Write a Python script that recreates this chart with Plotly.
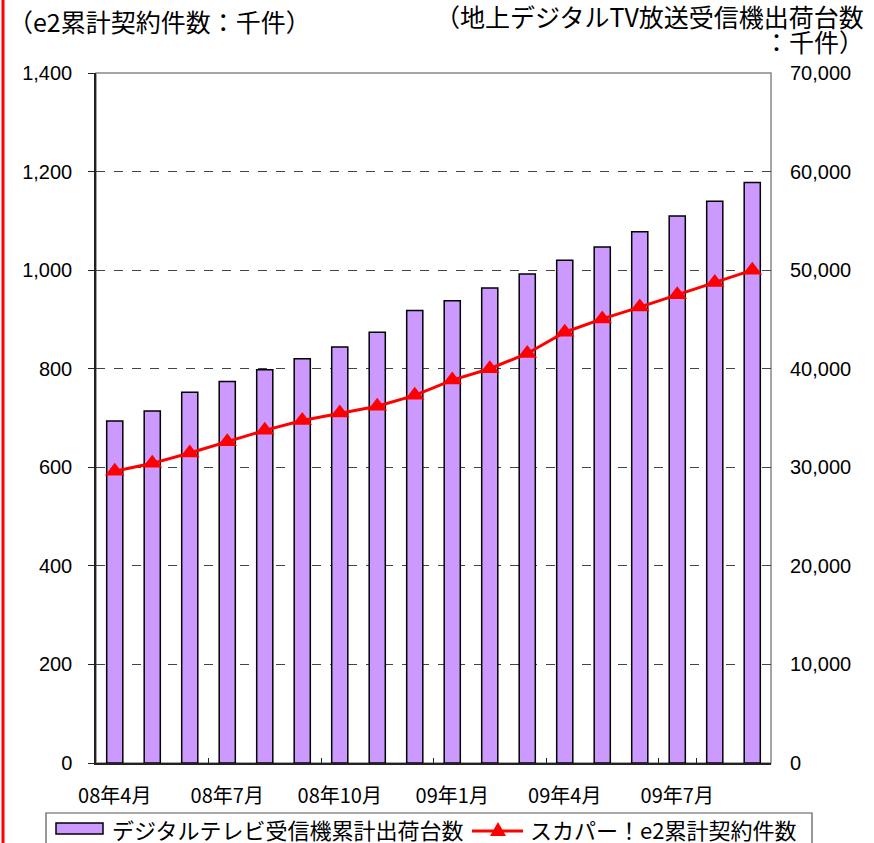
import plotly.graph_objects as go

months = ["08年4月", "08年5月", "08年6月", "08年7月", "08年8月", "08年9月",
          "08年10月", "08年11月", "08年12月", "09年1月", "09年2月", "09年3月",
          "09年4月", "09年5月", "09年6月", "09年7月", "09年8月", "09年9月"]
tv_shipments = [34700, 35700, 37600, 38700, 39900, 41000, 42200, 43700, 45900,
                46900, 48200, 49600, 51000, 52350, 53900, 55500, 57000, 58900]
e2_contracts = [592, 608, 629, 652, 675, 695, 710, 724, 746,
                777, 800, 831, 874, 901, 925, 950, 975, 1000]
shown_labels = ["08年4月", "08年7月", "08年10月", "09年1月", "09年4月", "09年7月"]
left_ticks = [0, 200, 400, 600, 800, 1000, 1200, 1400]
right_ticks = [0, 10000, 20000, 30000, 40000, 50000, 60000, 70000]
bar_name = "デジタルテレビ受信機累計出荷台数"
line_name = "スカパー！e2累計契約件数"
left_title = "（e2累計契約件数：千件）"
right_title_1 = "（地上デジタルTV放送受信機出荷台数"
right_title_2 = "：千件）"

jp = "Noto Sans CJK JP"
num = "Liberation Sans"

# plot area in pixels
L, R, T, B = 96, 771, 73, 763
W, H = R - L, B - T


def px(x):
    return (x - L) / W


def py(y):
    return (B - y) / H


fig = go.Figure()
# bars on the primary (right-side) axis so the line, on the overlaying axis, is drawn above them
fig.add_trace(go.Bar(
    x=months, y=tv_shipments, yaxis="y", name=bar_name,
    marker=dict(color="#CC99FF", line=dict(color="#000000", width=1.5)),
    width=0.43,
))
fig.add_trace(go.Scatter(
    x=months, y=e2_contracts, yaxis="y2", name=line_name,
    mode="lines+markers",
    line=dict(color="#FF0000", width=3),
    marker=dict(symbol="triangle-up", size=17, color="#FF0000"),
    cliponaxis=False,
))

fig.update_layout(
    width=874, height=843,
    margin=dict(l=L, r=874 - R, t=T, b=843 - B, autoexpand=False),
    paper_bgcolor="white", plot_bgcolor="white",
    showlegend=False,
    xaxis=dict(type="category", range=[-0.5, 17.5], autorange=False,
               tickvals=shown_labels, ticktext=shown_labels,
               tickson="boundaries", ticks="inside", ticklen=5, tickcolor="#222",
               showline=True, linecolor="#222", linewidth=1.5,
               showgrid=False, tickangle=0, automargin=False,
               ticklabelstandoff=14,
               tickfont=dict(family=jp, size=20, color="black")),
    yaxis=dict(range=[0, 70000], autorange=False, tickvals=right_ticks, tickformat=",d",
               side="right", showline=False,
               showgrid=True, gridcolor="#444", griddash="dash", gridwidth=1,
               ticks="", zeroline=False, ticklabelstandoff=18, automargin=False,
               tickfont=dict(family=num, size=20, color="black")),
    yaxis2=dict(range=[0, 1400], autorange=False, tickvals=left_ticks, tickformat=",d",
                overlaying="y", side="left",
                showline=True, linecolor="#222", linewidth=1.5,
                ticks="outside", ticklen=6, tickcolor="#222",
                showgrid=False, zeroline=False, ticklabelstandoff=12, automargin=False,
                tickfont=dict(family=num, size=20, color="black")),
    shapes=[
        # plot border (gray)
        dict(type="rect", xref="paper", yref="paper", x0=0, x1=1, y0=0, y1=1,
             line=dict(color="#888888", width=1.5), layer="below"),
        # red vertical line at left edge
        dict(type="line", xref="paper", yref="paper", x0=px(3), x1=px(3),
             y0=py(850), y1=py(-10), line=dict(color="#FF0000", width=3)),
        # legend box
        dict(type="rect", xref="paper", yref="paper", x0=px(46), x1=px(812),
             y0=py(870), y1=py(813), line=dict(color="#555555", width=1.2),
             fillcolor="white"),
        # legend bar symbol
        dict(type="rect", xref="paper", yref="paper", x0=px(56), x1=px(103),
             y0=py(834), y1=py(823), line=dict(color="#000000", width=1.5),
             fillcolor="#CC99FF"),
        # legend line symbol
        dict(type="line", xref="paper", yref="paper", x0=px(472), x1=px(523),
             y0=py(831), y1=py(831), line=dict(color="#FF0000", width=3)),
        dict(type="path", xref="paper", yref="paper",
             path=f"M {px(490)} {py(836)} L {px(506)} {py(836)} L {px(498)} {py(822)} Z",
             fillcolor="#FF0000", line=dict(color="#FF0000", width=0)),
    ],
    annotations=[
        dict(text=left_title, xref="paper", yref="paper",
             x=px(6), y=py(21), xanchor="left", yanchor="middle", showarrow=False,
             font=dict(family=jp, size=25, color="black")),
        dict(text=right_title_1, xref="paper", yref="paper",
             x=px(866), y=py(16), xanchor="right", yanchor="middle", showarrow=False,
             font=dict(family=jp, size=25, color="black")),
        dict(text=right_title_2, xref="paper", yref="paper",
             x=px(866), y=py(41), xanchor="right", yanchor="middle", showarrow=False,
             font=dict(family=jp, size=25, color="black")),
        dict(text=bar_name, xref="paper", yref="paper",
             x=px(110), y=py(829), xanchor="left", yanchor="middle", showarrow=False,
             font=dict(family=jp, size=22, color="black")),
        dict(text=line_name, xref="paper", yref="paper",
             x=px(528), y=py(829), xanchor="left", yanchor="middle", showarrow=False,
             font=dict(family=jp, size=22, color="black")),
    ],
)

fig.write_html("out.html", config={"displayModeBar": False},
               post_script="document.body.style.margin='0px';")
